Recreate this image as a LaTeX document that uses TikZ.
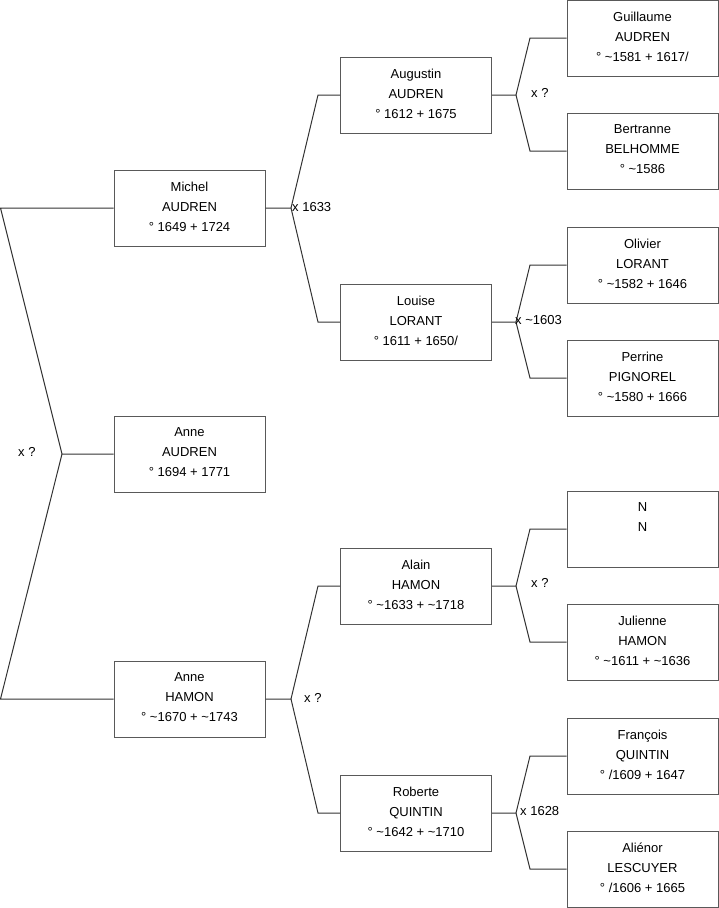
\documentclass[tikz,border=0pt]{standalone}
\usepackage{fontspec}
\setmainfont{Liberation Sans}
\newcommand\pers[3]{#1\\#2\\#3\rule[-3pt]{0pt}{3pt}}
\begin{document}
\begin{tikzpicture}[x=1pt,y=-1pt,
  person/.style={draw=black!65,line width=1pt,fill=white,minimum width=151pt,minimum height=76pt,align=center,inner sep=0pt,font=\fontsize{13}{20}\selectfont},
  link/.style={draw=black!80,line width=1pt},
  union/.style={anchor=west,inner sep=0pt,font=\fontsize{13}{15}\selectfont}]
\useasboundingbox (0,0) rectangle (719,908);
% level 1
\node[person] (michel) at (189.5,208) {\pers{Michel}{AUDREN}{° 1649 + 1724}};
\node[person] (anneA) at (189.5,454) {\pers{Anne}{AUDREN}{° 1694 + 1771}};
\node[person] (anneH) at (189.5,699) {\pers{Anne}{HAMON}{° \textasciitilde1670 + \textasciitilde1743}};
% level 2
\node[person] (augustin) at (416,95) {\pers{Augustin}{AUDREN}{° 1612 + 1675}};
\node[person] (louise) at (416,322) {\pers{Louise}{LORANT}{° 1611 + 1650/}};
\node[person] (alain) at (416,586) {\pers{Alain}{HAMON}{° \textasciitilde1633 + \textasciitilde1718}};
\node[person] (roberte) at (416,813) {\pers{Roberte}{QUINTIN}{° \textasciitilde1642 + \textasciitilde1710}};
% level 3
\node[person] (guillaume) at (642.5,38) {\pers{Guillaume}{AUDREN}{° \textasciitilde1581 + 1617/}};
\node[person] (bertranne) at (642.5,151) {\pers{Bertranne}{BELHOMME}{° \textasciitilde1586}};
\node[person] (olivier) at (642.5,265) {\pers{Olivier}{LORANT}{° \textasciitilde1582 + 1646}};
\node[person] (perrine) at (642.5,378) {\pers{Perrine}{PIGNOREL}{° \textasciitilde1580 + 1666}};
\node[person] (nn) at (642.5,529) {\pers{N}{N}{}};
\node[person] (julienne) at (642.5,642) {\pers{Julienne}{HAMON}{° \textasciitilde1611 + \textasciitilde1636}};
\node[person] (francois) at (642.5,756) {\pers{François}{QUINTIN}{° /1609 + 1647}};
\node[person] (alienor) at (642.5,869) {\pers{Aliénor}{LESCUYER}{° /1606 + 1665}};
% fork coordinates
\coordinate (f0) at (62,454);
\coordinate (f0a) at (0.5,208);
\coordinate (f0b) at (0.5,699);
\coordinate (f1) at (291,208);
\coordinate (f1a) at (318,95);
\coordinate (f1b) at (318,322);
\coordinate (f2) at (291,699);
\coordinate (f2a) at (318,586);
\coordinate (f2b) at (318,813);
\coordinate (g1) at (516,95);
\coordinate (g1a) at (530,38);
\coordinate (g1b) at (530,151);
\coordinate (g2) at (516,322);
\coordinate (g2a) at (530,265);
\coordinate (g2b) at (530,378);
\coordinate (g3) at (516,586);
\coordinate (g3a) at (530,529);
\coordinate (g3b) at (530,642);
\coordinate (g4) at (516,813);
\coordinate (g4a) at (530,756);
\coordinate (g4b) at (530,869);
% connectors
\draw[link] (anneA.west) -- (f0) -- (f0a) -- (michel.west);
\draw[link] (f0) -- (f0b) -- (anneH.west);
\draw[link] (michel.east) -- (f1) -- (f1a) -- (augustin.west);
\draw[link] (f1) -- (f1b) -- (louise.west);
\draw[link] (anneH.east) -- (f2) -- (f2a) -- (alain.west);
\draw[link] (f2) -- (f2b) -- (roberte.west);
\draw[link] (augustin.east) -- (g1) -- (g1a) -- (guillaume.west);
\draw[link] (g1) -- (g1b) -- (bertranne.west);
\draw[link] (louise.east) -- (g2) -- (g2a) -- (olivier.west);
\draw[link] (g2) -- (g2b) -- (perrine.west);
\draw[link] (alain.east) -- (g3) -- (g3a) -- (nn.west);
\draw[link] (g3) -- (g3b) -- (julienne.west);
\draw[link] (roberte.east) -- (g4) -- (g4a) -- (francois.west);
\draw[link] (g4) -- (g4b) -- (alienor.west);
% union labels
\node[union] (u0) at (18,452) {x ?};
\node[union] (u1) at (292,207) {x 1633};
\node[union] (u2) at (304,698) {x ?};
\node[union] (u3) at (531,93) {x ?};
\node[union] (u4) at (515,320) {x \textasciitilde1603};
\node[union] (u5) at (531,583) {x ?};
\node[union] (u6) at (520,811) {x 1628};
\end{tikzpicture}
\end{document}
